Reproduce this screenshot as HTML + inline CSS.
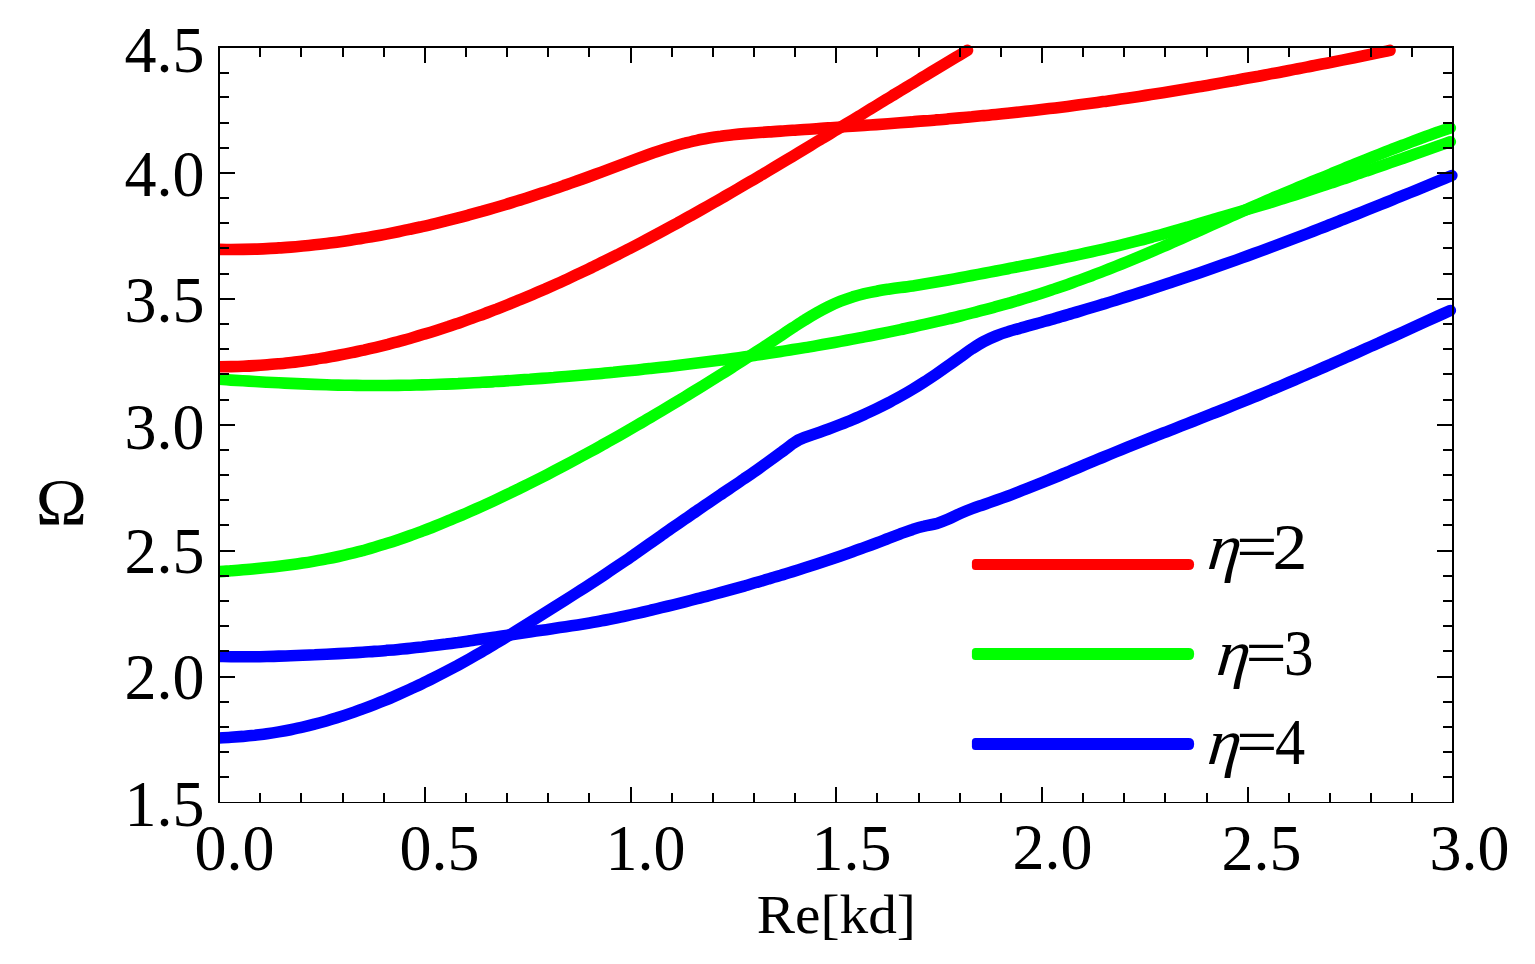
<!DOCTYPE html>
<html lang="en">
<head>
<meta charset="utf-8">
<title>Dispersion curves: Ω versus Re[kd]</title>
<style>
html,body{margin:0;padding:0;background:#fff;}
body{width:1535px;height:964px;overflow:hidden;}
svg{display:block;}
text{font-family:"Liberation Serif","DejaVu Serif",serif;fill:#000;}
.ax line,.ax rect{shape-rendering:crispEdges;}
.cv path{fill:none;stroke-linecap:round;stroke-linejoin:round;}
</style>
</head>
<body>
<svg width="1535" height="964" viewBox="0 0 1535 964">
<rect x="0" y="0" width="1535" height="964" fill="#ffffff"/>
<defs><clipPath id="pc"><rect x="218" y="30" width="1250" height="790"/></clipPath></defs>
<g class="cv" stroke-width="11.6" clip-path="url(#pc)">
<path stroke="#0000ff" d="M219.0 656.5 C221.0 656.5 227.0 656.7 231.0 656.7 C234.9 656.8 238.9 656.8 242.9 656.8 C246.9 656.8 250.9 656.8 254.9 656.7 C258.8 656.7 262.8 656.6 266.8 656.5 C270.8 656.4 274.8 656.3 278.8 656.1 C282.8 656.0 286.7 655.9 290.7 655.7 C294.7 655.6 298.7 655.4 302.7 655.3 C306.7 655.1 310.7 654.9 314.6 654.8 C318.6 654.6 322.6 654.4 326.6 654.2 C330.6 654.0 334.6 653.8 338.5 653.6 C342.5 653.4 346.5 653.2 350.5 653.0 C354.5 652.7 358.5 652.5 362.5 652.2 C366.4 651.9 370.4 651.7 374.4 651.4 C378.4 651.1 382.4 650.8 386.4 650.4 C390.3 650.1 394.3 649.8 398.3 649.4 C402.3 649.0 406.3 648.7 410.3 648.2 C414.3 647.8 418.2 647.4 422.2 647.0 C426.2 646.5 430.2 646.0 434.2 645.6 C438.2 645.1 442.1 644.6 446.1 644.1 C450.1 643.5 454.1 643.0 458.1 642.5 C462.1 641.9 466.1 641.4 470.0 640.8 C474.0 640.3 478.0 639.7 482.0 639.1 C486.0 638.5 490.0 637.9 494.0 637.3 C497.9 636.8 501.9 636.2 505.9 635.6 C509.9 635.0 513.9 634.4 517.9 633.8 C521.8 633.2 525.8 632.6 529.8 632.0 C533.8 631.4 537.8 630.8 541.8 630.2 C545.8 629.7 549.7 629.1 553.7 628.5 C557.7 627.9 561.7 627.3 565.7 626.7 C569.7 626.1 573.6 625.5 577.6 624.9 C581.6 624.3 585.6 623.6 589.6 623.0 C593.6 622.3 597.6 621.6 601.5 620.8 C605.5 620.1 609.5 619.3 613.5 618.5 C617.5 617.7 621.5 616.9 625.4 616.0 C629.4 615.2 633.4 614.3 637.4 613.4 C641.4 612.5 645.4 611.5 649.4 610.6 C653.3 609.7 657.3 608.7 661.3 607.7 C665.3 606.7 669.3 605.8 673.3 604.8 C677.3 603.8 681.2 602.8 685.2 601.8 C689.2 600.8 693.2 599.7 697.2 598.7 C701.2 597.7 705.1 596.6 709.1 595.6 C713.1 594.5 717.1 593.5 721.1 592.4 C725.1 591.3 729.1 590.2 733.0 589.1 C737.0 588.0 741.0 586.9 745.0 585.8 C749.0 584.6 753.0 583.5 756.9 582.3 C760.9 581.2 764.9 580.0 768.9 578.8 C772.9 577.7 776.9 576.5 780.9 575.3 C784.8 574.0 788.8 572.8 792.8 571.6 C796.8 570.3 800.8 569.1 804.8 567.8 C808.7 566.5 812.7 565.2 816.7 563.9 C820.7 562.6 824.7 561.3 828.7 560.0 C832.7 558.6 836.6 557.3 840.6 555.9 C844.6 554.5 848.6 553.1 852.6 551.7 C856.6 550.3 860.6 548.8 864.5 547.4 C868.5 545.9 872.5 544.5 876.5 543.0 C880.5 541.5 884.5 540.0 888.4 538.4 C892.4 536.9 896.4 535.3 900.4 533.8 C904.4 532.4 908.4 530.8 912.4 529.6 C916.3 528.3 920.3 527.1 924.3 526.2 C928.3 525.2 932.3 524.8 936.3 523.7 C940.2 522.5 944.2 520.9 948.2 519.2 C952.2 517.5 956.2 515.3 960.2 513.5 C964.2 511.7 968.1 510.1 972.1 508.6 C976.1 507.1 980.1 505.9 984.1 504.5 C988.1 503.1 992.0 501.7 996.0 500.3 C1000.0 498.9 1004.0 497.4 1008.0 496.0 C1012.0 494.5 1016.0 492.9 1019.9 491.4 C1023.9 489.9 1027.9 488.3 1031.9 486.7 C1035.9 485.1 1039.9 483.5 1043.9 481.9 C1047.8 480.3 1051.8 478.6 1055.8 477.0 C1059.8 475.3 1063.8 473.6 1067.8 472.0 C1071.7 470.3 1075.7 468.6 1079.7 467.0 C1083.7 465.3 1087.7 463.6 1091.7 461.9 C1095.7 460.3 1099.6 458.6 1103.6 457.0 C1107.6 455.3 1111.6 453.7 1115.6 452.0 C1119.6 450.4 1123.5 448.8 1127.5 447.2 C1131.5 445.6 1135.5 444.0 1139.5 442.4 C1143.5 440.8 1147.5 439.2 1151.4 437.6 C1155.4 436.1 1159.4 434.5 1163.4 432.9 C1167.4 431.4 1171.4 429.8 1175.3 428.3 C1179.3 426.7 1183.3 425.2 1187.3 423.6 C1191.3 422.0 1195.3 420.5 1199.3 418.9 C1203.2 417.4 1207.2 415.8 1211.2 414.2 C1215.2 412.7 1219.2 411.1 1223.2 409.5 C1227.2 407.9 1231.1 406.3 1235.1 404.7 C1239.1 403.1 1243.1 401.5 1247.1 399.9 C1251.1 398.3 1255.0 396.6 1259.0 395.0 C1263.0 393.3 1267.0 391.7 1271.0 390.0 C1275.0 388.3 1279.0 386.7 1282.9 385.0 C1286.9 383.3 1290.9 381.6 1294.9 379.9 C1298.9 378.2 1302.9 376.4 1306.8 374.7 C1310.8 373.0 1314.8 371.3 1318.8 369.5 C1322.8 367.8 1326.8 366.0 1330.8 364.3 C1334.7 362.5 1338.7 360.7 1342.7 359.0 C1346.7 357.2 1350.7 355.4 1354.7 353.7 C1358.6 351.9 1362.6 350.1 1366.6 348.3 C1370.6 346.5 1374.6 344.7 1378.6 343.0 C1382.6 341.2 1386.5 339.4 1390.5 337.6 C1394.5 335.8 1398.5 334.0 1402.5 332.2 C1406.5 330.4 1410.5 328.6 1414.4 326.8 C1418.4 325.0 1422.4 323.1 1426.4 321.3 C1430.4 319.5 1434.4 317.7 1438.3 315.9 C1442.3 314.1 1448.3 311.4 1450.3 310.5"/>
<path stroke="#0000ff" d="M219.0 738.0 C221.0 737.9 227.0 737.6 230.9 737.3 C234.9 737.0 238.9 736.7 242.9 736.4 C246.9 736.0 250.8 735.6 254.8 735.2 C258.8 734.7 262.8 734.3 266.8 733.7 C270.7 733.2 274.7 732.6 278.7 731.9 C282.7 731.2 286.6 730.5 290.6 729.7 C294.6 728.9 298.6 728.1 302.6 727.2 C306.5 726.3 310.5 725.3 314.5 724.2 C318.5 723.2 322.5 722.1 326.4 721.0 C330.4 719.8 334.4 718.6 338.4 717.3 C342.4 716.1 346.3 714.8 350.3 713.4 C354.3 712.0 358.3 710.6 362.2 709.1 C366.2 707.7 370.2 706.2 374.2 704.6 C378.2 703.0 382.1 701.4 386.1 699.8 C390.1 698.1 394.1 696.4 398.1 694.6 C402.0 692.9 406.0 691.1 410.0 689.3 C414.0 687.4 418.0 685.6 421.9 683.7 C425.9 681.8 429.9 679.8 433.9 677.8 C437.9 675.8 441.8 673.8 445.8 671.7 C449.8 669.6 453.8 667.5 457.8 665.4 C461.7 663.2 465.7 661.0 469.7 658.8 C473.7 656.5 477.6 654.2 481.6 651.9 C485.6 649.6 489.6 647.2 493.6 644.8 C497.5 642.4 501.5 640.0 505.5 637.5 C509.5 635.1 513.5 632.6 517.4 630.1 C521.4 627.6 525.4 625.1 529.4 622.6 C533.4 620.1 537.3 617.6 541.3 615.1 C545.3 612.6 549.3 610.1 553.2 607.6 C557.2 605.1 561.2 602.6 565.2 600.1 C569.2 597.6 573.1 595.1 577.1 592.5 C581.1 590.0 585.1 587.5 589.1 584.9 C593.0 582.3 597.0 579.7 601.0 577.1 C605.0 574.4 609.0 571.8 612.9 569.1 C616.9 566.4 620.9 563.7 624.9 561.0 C628.9 558.3 632.8 555.5 636.8 552.7 C640.8 549.9 644.8 547.1 648.8 544.3 C652.7 541.5 656.7 538.7 660.7 535.9 C664.7 533.2 668.6 530.4 672.6 527.6 C676.6 524.8 680.6 522.1 684.6 519.3 C688.5 516.6 692.5 513.8 696.5 511.1 C700.5 508.4 704.5 505.6 708.4 502.9 C712.4 500.2 716.4 497.5 720.4 494.8 C724.4 492.2 728.3 489.5 732.3 486.8 C736.3 484.1 740.3 481.4 744.2 478.6 C748.2 475.9 752.2 473.2 756.2 470.4 C760.2 467.6 764.1 464.8 768.1 461.9 C772.1 459.1 776.1 456.2 780.1 453.2 C784.0 450.3 790.0 445.7 792.0 444.2 Q798.0 439.5 804.0 437.6 C806.0 436.9 812.0 434.9 816.0 433.5 C820.0 432.1 824.0 430.7 828.0 429.2 C832.0 427.8 836.0 426.3 840.0 424.7 C844.0 423.1 848.0 421.5 852.0 419.8 C856.0 418.1 860.0 416.4 864.0 414.6 C868.0 412.8 872.0 410.9 876.0 409.0 C880.0 407.0 884.0 405.0 888.0 403.0 C892.0 400.9 896.0 398.7 900.0 396.5 C904.0 394.3 908.0 392.0 912.0 389.6 C916.0 387.2 920.0 384.7 924.0 382.1 C928.0 379.6 932.0 376.9 936.0 374.2 C940.0 371.4 944.0 368.6 948.0 365.8 C952.0 363.0 956.0 360.1 960.0 357.2 C964.0 354.4 967.9 351.5 971.9 348.8 C975.9 346.2 979.9 343.6 983.9 341.5 C987.9 339.4 991.9 337.6 995.9 336.0 C999.9 334.4 1003.9 333.0 1007.9 331.8 C1011.9 330.5 1015.9 329.4 1019.9 328.3 C1023.9 327.1 1027.9 326.0 1031.9 324.9 C1035.9 323.8 1039.9 322.7 1043.9 321.5 C1047.9 320.4 1051.9 319.3 1055.9 318.1 C1059.9 317.0 1063.9 315.8 1067.9 314.6 C1071.9 313.5 1075.9 312.3 1079.9 311.1 C1083.9 309.9 1087.9 308.7 1091.9 307.5 C1095.9 306.3 1099.9 305.1 1103.9 303.9 C1107.9 302.6 1111.9 301.4 1115.9 300.2 C1119.9 298.9 1123.9 297.7 1127.9 296.4 C1131.9 295.1 1135.9 293.9 1139.9 292.6 C1143.9 291.3 1147.9 290.0 1151.9 288.7 C1155.9 287.4 1159.9 286.1 1163.9 284.8 C1167.9 283.5 1171.9 282.2 1175.9 280.8 C1179.9 279.5 1183.9 278.1 1187.9 276.8 C1191.9 275.4 1195.9 274.1 1199.9 272.7 C1203.9 271.3 1207.9 269.9 1211.9 268.5 C1215.9 267.1 1219.9 265.7 1223.9 264.3 C1227.9 262.9 1231.9 261.5 1235.9 260.1 C1239.9 258.6 1243.9 257.2 1247.9 255.7 C1251.9 254.3 1255.9 252.8 1259.9 251.4 C1263.9 249.9 1267.9 248.4 1271.9 246.9 C1275.9 245.4 1279.9 243.9 1283.9 242.4 C1287.9 240.9 1291.8 239.4 1295.8 237.9 C1299.8 236.4 1303.8 234.8 1307.8 233.3 C1311.8 231.8 1315.8 230.2 1319.8 228.7 C1323.8 227.1 1327.8 225.5 1331.8 224.0 C1335.8 222.4 1339.8 220.8 1343.8 219.3 C1347.8 217.7 1351.8 216.1 1355.8 214.5 C1359.8 212.9 1363.8 211.3 1367.8 209.7 C1371.8 208.1 1375.8 206.5 1379.8 204.9 C1383.8 203.3 1387.8 201.7 1391.8 200.1 C1395.8 198.4 1399.8 196.8 1403.8 195.2 C1407.8 193.6 1411.8 191.9 1415.8 190.3 C1419.8 188.7 1423.8 187.0 1427.8 185.4 C1431.8 183.7 1435.8 182.1 1439.8 180.4 C1443.8 178.8 1449.8 176.3 1451.8 175.5"/>
<path stroke="#00ff00" d="M219.0 379.3 C221.0 379.4 227.0 379.8 231.0 380.1 C234.9 380.3 238.9 380.6 242.9 380.8 C246.9 381.0 250.9 381.3 254.9 381.5 C258.8 381.7 262.8 382.0 266.8 382.2 C270.8 382.4 274.8 382.6 278.8 382.8 C282.8 383.0 286.7 383.2 290.7 383.4 C294.7 383.6 298.7 383.7 302.7 383.9 C306.7 384.1 310.7 384.2 314.6 384.4 C318.6 384.5 322.6 384.6 326.6 384.7 C330.6 384.9 334.6 385.0 338.5 385.1 C342.5 385.2 346.5 385.2 350.5 385.3 C354.5 385.4 358.5 385.4 362.5 385.5 C366.4 385.5 370.4 385.5 374.4 385.5 C378.4 385.5 382.4 385.5 386.4 385.5 C390.3 385.5 394.3 385.4 398.3 385.4 C402.3 385.3 406.3 385.3 410.3 385.2 C414.3 385.1 418.2 385.0 422.2 384.9 C426.2 384.8 430.2 384.6 434.2 384.5 C438.2 384.4 442.1 384.2 446.1 384.1 C450.1 383.9 454.1 383.7 458.1 383.6 C462.1 383.4 466.1 383.2 470.0 383.0 C474.0 382.8 478.0 382.6 482.0 382.3 C486.0 382.1 490.0 381.9 494.0 381.6 C497.9 381.4 501.9 381.2 505.9 380.9 C509.9 380.6 513.9 380.4 517.9 380.1 C521.8 379.8 525.8 379.5 529.8 379.3 C533.8 379.0 537.8 378.7 541.8 378.4 C545.8 378.1 549.7 377.8 553.7 377.5 C557.7 377.1 561.7 376.8 565.7 376.5 C569.7 376.2 573.6 375.8 577.6 375.5 C581.6 375.2 585.6 374.8 589.6 374.5 C593.6 374.1 597.6 373.8 601.5 373.4 C605.5 373.0 609.5 372.6 613.5 372.3 C617.5 371.9 621.5 371.5 625.4 371.1 C629.4 370.7 633.4 370.3 637.4 369.9 C641.4 369.5 645.4 369.1 649.4 368.6 C653.3 368.2 657.3 367.8 661.3 367.3 C665.3 366.9 669.3 366.4 673.3 366.0 C677.3 365.5 681.2 365.1 685.2 364.6 C689.2 364.1 693.2 363.6 697.2 363.1 C701.2 362.6 705.1 362.1 709.1 361.6 C713.1 361.1 717.1 360.6 721.1 360.1 C725.1 359.6 729.1 359.0 733.0 358.5 C737.0 357.9 741.0 357.4 745.0 356.8 C749.0 356.2 753.0 355.7 756.9 355.1 C760.9 354.5 764.9 353.9 768.9 353.3 C772.9 352.7 776.9 352.1 780.9 351.5 C784.8 350.9 788.8 350.2 792.8 349.6 C796.8 348.9 800.8 348.3 804.8 347.6 C808.7 347.0 812.7 346.3 816.7 345.6 C820.7 344.9 824.7 344.2 828.7 343.5 C832.7 342.8 836.6 342.1 840.6 341.4 C844.6 340.6 848.6 339.9 852.6 339.1 C856.6 338.4 860.6 337.6 864.5 336.9 C868.5 336.1 872.5 335.3 876.5 334.5 C880.5 333.7 884.5 332.9 888.4 332.1 C892.4 331.3 896.4 330.4 900.4 329.6 C904.4 328.8 908.4 327.9 912.4 327.0 C916.3 326.2 920.3 325.3 924.3 324.4 C928.3 323.5 932.3 322.6 936.3 321.7 C940.2 320.8 944.2 319.9 948.2 318.9 C952.2 318.0 956.2 317.0 960.2 316.0 C964.2 315.0 968.1 314.0 972.1 313.0 C976.1 312.0 980.1 311.0 984.1 309.9 C988.1 308.9 992.0 307.8 996.0 306.7 C1000.0 305.6 1004.0 304.5 1008.0 303.4 C1012.0 302.2 1016.0 301.1 1019.9 299.9 C1023.9 298.7 1027.9 297.5 1031.9 296.2 C1035.9 295.0 1039.9 293.7 1043.9 292.4 C1047.8 291.2 1051.8 289.8 1055.8 288.5 C1059.8 287.1 1063.8 285.8 1067.8 284.4 C1071.7 283.0 1075.7 281.5 1079.7 280.1 C1083.7 278.6 1087.7 277.2 1091.7 275.7 C1095.7 274.2 1099.6 272.6 1103.6 271.1 C1107.6 269.5 1111.6 268.0 1115.6 266.4 C1119.6 264.8 1123.5 263.2 1127.5 261.6 C1131.5 259.9 1135.5 258.3 1139.5 256.6 C1143.5 255.0 1147.5 253.3 1151.4 251.6 C1155.4 249.9 1159.4 248.2 1163.4 246.5 C1167.4 244.7 1171.4 243.0 1175.3 241.2 C1179.3 239.5 1183.3 237.7 1187.3 236.0 C1191.3 234.2 1195.3 232.4 1199.3 230.7 C1203.2 228.9 1207.2 227.1 1211.2 225.3 C1215.2 223.5 1219.2 221.7 1223.2 219.9 C1227.2 218.1 1231.1 216.3 1235.1 214.6 C1239.1 212.8 1243.1 211.0 1247.1 209.2 C1251.1 207.5 1255.0 205.7 1259.0 204.0 C1263.0 202.2 1267.0 200.5 1271.0 198.8 C1275.0 197.1 1279.0 195.5 1282.9 193.8 C1286.9 192.1 1290.9 190.5 1294.9 188.8 C1298.9 187.2 1302.9 185.5 1306.8 183.9 C1310.8 182.2 1314.8 180.6 1318.8 179.0 C1322.8 177.3 1326.8 175.7 1330.8 174.0 C1334.7 172.4 1338.7 170.7 1342.7 169.1 C1346.7 167.5 1350.7 165.9 1354.7 164.2 C1358.6 162.6 1362.6 161.0 1366.6 159.4 C1370.6 157.8 1374.6 156.2 1378.6 154.6 C1382.6 153.0 1386.5 151.5 1390.5 149.9 C1394.5 148.3 1398.5 146.8 1402.5 145.3 C1406.5 143.8 1410.5 142.2 1414.4 140.8 C1418.4 139.3 1422.4 137.8 1426.4 136.3 C1430.4 134.9 1434.4 133.5 1438.3 132.0 C1442.3 130.6 1448.3 128.6 1450.3 127.9"/>
<path stroke="#00ff00" d="M219.0 571.7 C221.0 571.5 227.0 571.1 231.0 570.8 C234.9 570.5 238.9 570.2 242.9 569.8 C246.9 569.5 250.9 569.2 254.9 568.8 C258.8 568.4 262.8 568.0 266.8 567.6 C270.8 567.2 274.8 566.7 278.8 566.3 C282.8 565.8 286.7 565.3 290.7 564.8 C294.7 564.2 298.7 563.7 302.7 563.1 C306.7 562.5 310.7 561.8 314.6 561.1 C318.6 560.4 322.6 559.7 326.6 558.9 C330.6 558.2 334.6 557.4 338.5 556.5 C342.5 555.6 346.5 554.7 350.5 553.7 C354.5 552.8 358.5 551.7 362.5 550.7 C366.4 549.6 370.4 548.5 374.4 547.3 C378.4 546.1 382.4 544.9 386.4 543.6 C390.3 542.4 394.3 541.1 398.3 539.7 C402.3 538.4 406.3 537.0 410.3 535.5 C414.3 534.1 418.2 532.6 422.2 531.1 C426.2 529.6 430.2 528.1 434.2 526.5 C438.2 524.9 442.1 523.3 446.1 521.7 C450.1 520.1 454.1 518.4 458.1 516.7 C462.1 515.0 466.1 513.3 470.0 511.5 C474.0 509.7 478.0 508.0 482.0 506.2 C486.0 504.4 490.0 502.5 494.0 500.7 C497.9 498.8 501.9 496.9 505.9 495.0 C509.9 493.1 513.9 491.2 517.9 489.3 C521.8 487.3 525.8 485.4 529.8 483.4 C533.8 481.4 537.8 479.4 541.8 477.4 C545.8 475.3 549.7 473.3 553.7 471.2 C557.7 469.1 561.7 467.0 565.7 464.9 C569.7 462.8 573.6 460.7 577.6 458.5 C581.6 456.4 585.6 454.2 589.6 452.0 C593.6 449.9 597.6 447.7 601.5 445.4 C605.5 443.2 609.5 441.0 613.5 438.7 C617.5 436.5 621.5 434.2 625.4 431.9 C629.4 429.6 633.4 427.3 637.4 425.0 C641.4 422.7 645.4 420.4 649.4 418.0 C653.3 415.7 657.3 413.3 661.3 411.0 C665.3 408.6 669.3 406.2 673.3 403.8 C677.3 401.4 681.2 399.0 685.2 396.6 C689.2 394.1 693.2 391.7 697.2 389.3 C701.2 386.8 705.1 384.4 709.1 381.9 C713.1 379.4 717.1 376.9 721.1 374.4 C725.1 371.9 729.1 369.4 733.0 366.8 C737.0 364.3 741.0 361.8 745.0 359.2 C749.0 356.6 753.0 354.0 756.9 351.4 C760.9 348.8 764.9 346.2 768.9 343.6 C772.9 341.0 776.9 338.3 780.9 335.7 C784.8 333.0 788.8 330.3 792.8 327.7 C796.8 325.1 800.8 322.4 804.8 320.0 C808.7 317.5 812.7 315.0 816.7 312.8 C820.7 310.6 824.7 308.5 828.7 306.5 C832.7 304.6 836.6 302.8 840.6 301.2 C844.6 299.6 848.6 298.2 852.6 296.9 C856.6 295.7 860.6 294.6 864.5 293.6 C868.5 292.7 872.5 291.9 876.5 291.2 C880.5 290.4 884.5 289.8 888.4 289.2 C892.4 288.6 896.4 288.1 900.4 287.5 C904.4 287.0 908.4 286.5 912.4 285.9 C916.3 285.3 920.3 284.7 924.3 284.0 C928.3 283.4 932.3 282.7 936.3 282.1 C940.2 281.4 944.2 280.7 948.2 280.0 C952.2 279.3 956.2 278.5 960.2 277.8 C964.2 277.0 968.1 276.3 972.1 275.5 C976.1 274.8 980.1 274.0 984.1 273.3 C988.1 272.5 992.0 271.8 996.0 271.0 C1000.0 270.2 1004.0 269.5 1008.0 268.7 C1012.0 267.9 1016.0 267.2 1019.9 266.4 C1023.9 265.6 1027.9 264.9 1031.9 264.1 C1035.9 263.3 1039.9 262.5 1043.9 261.7 C1047.8 260.9 1051.8 260.1 1055.8 259.3 C1059.8 258.5 1063.8 257.7 1067.8 256.9 C1071.7 256.0 1075.7 255.2 1079.7 254.3 C1083.7 253.5 1087.7 252.6 1091.7 251.8 C1095.7 250.9 1099.6 250.0 1103.6 249.1 C1107.6 248.2 1111.6 247.2 1115.6 246.3 C1119.6 245.4 1123.5 244.4 1127.5 243.4 C1131.5 242.4 1135.5 241.4 1139.5 240.4 C1143.5 239.4 1147.5 238.4 1151.4 237.3 C1155.4 236.2 1159.4 235.2 1163.4 234.0 C1167.4 232.9 1171.4 231.8 1175.3 230.7 C1179.3 229.5 1183.3 228.3 1187.3 227.2 C1191.3 226.0 1195.3 224.8 1199.3 223.6 C1203.2 222.4 1207.2 221.2 1211.2 220.0 C1215.2 218.9 1219.2 217.7 1223.2 216.5 C1227.2 215.3 1231.1 214.2 1235.1 213.0 C1239.1 211.8 1243.1 210.7 1247.1 209.5 C1251.1 208.3 1255.0 207.2 1259.0 206.0 C1263.0 204.8 1267.0 203.6 1271.0 202.4 C1275.0 201.1 1279.0 199.9 1282.9 198.7 C1286.9 197.4 1290.9 196.2 1294.9 194.9 C1298.9 193.6 1302.9 192.3 1306.8 191.0 C1310.8 189.7 1314.8 188.4 1318.8 187.1 C1322.8 185.8 1326.8 184.5 1330.8 183.1 C1334.7 181.8 1338.7 180.5 1342.7 179.1 C1346.7 177.8 1350.7 176.4 1354.7 175.0 C1358.6 173.7 1362.6 172.3 1366.6 170.9 C1370.6 169.6 1374.6 168.2 1378.6 166.8 C1382.6 165.4 1386.5 164.0 1390.5 162.6 C1394.5 161.2 1398.5 159.9 1402.5 158.5 C1406.5 157.1 1410.5 155.7 1414.4 154.3 C1418.4 152.9 1422.4 151.5 1426.4 150.1 C1430.4 148.7 1434.4 147.3 1438.3 145.9 C1442.3 144.5 1448.3 142.5 1450.3 141.8"/>
<path stroke="#ff0000" d="M219.0 249.4 C221.0 249.4 227.0 249.5 230.9 249.5 C234.9 249.5 238.9 249.5 242.9 249.4 C246.9 249.3 250.9 249.2 254.8 249.1 C258.8 249.0 262.8 248.8 266.8 248.6 C270.8 248.4 274.8 248.2 278.7 247.9 C282.7 247.7 286.7 247.4 290.7 247.1 C294.7 246.8 298.7 246.4 302.6 246.0 C306.6 245.7 310.6 245.3 314.6 244.8 C318.6 244.4 322.6 243.9 326.5 243.4 C330.5 243.0 334.5 242.4 338.5 241.9 C342.5 241.4 346.5 240.8 350.4 240.2 C354.4 239.6 358.4 239.0 362.4 238.3 C366.4 237.6 370.4 237.0 374.3 236.3 C378.3 235.6 382.3 234.8 386.3 234.1 C390.3 233.3 394.3 232.5 398.2 231.7 C402.2 230.9 406.2 230.1 410.2 229.2 C414.2 228.4 418.1 227.5 422.1 226.6 C426.1 225.7 430.1 224.8 434.1 223.8 C438.1 222.9 442.0 221.9 446.0 220.9 C450.0 219.9 454.0 218.9 458.0 217.9 C462.0 216.9 465.9 215.8 469.9 214.7 C473.9 213.6 477.9 212.5 481.9 211.4 C485.9 210.3 489.8 209.2 493.8 208.0 C497.8 206.8 501.8 205.7 505.8 204.5 C509.8 203.3 513.7 202.0 517.7 200.8 C521.7 199.6 525.7 198.3 529.7 197.0 C533.7 195.7 537.6 194.4 541.6 193.1 C545.6 191.8 549.6 190.5 553.6 189.1 C557.6 187.8 561.5 186.4 565.5 185.0 C569.5 183.6 573.5 182.2 577.5 180.8 C581.5 179.4 585.4 178.0 589.4 176.5 C593.4 175.0 597.4 173.6 601.4 172.1 C605.4 170.6 609.3 169.1 613.3 167.6 C617.3 166.1 621.3 164.6 625.3 163.1 C629.2 161.6 633.2 160.1 637.2 158.6 C641.2 157.2 645.2 155.7 649.2 154.3 C653.1 152.9 657.1 151.6 661.1 150.3 C665.1 149.0 669.1 147.7 673.1 146.5 C677.0 145.3 681.0 144.2 685.0 143.2 C689.0 142.1 693.0 141.2 697.0 140.3 C700.9 139.4 704.9 138.7 708.9 138.0 C712.9 137.3 716.9 136.7 720.9 136.2 C724.8 135.6 728.8 135.2 732.8 134.7 C736.8 134.3 740.8 134.0 744.8 133.6 C748.7 133.3 752.7 133.0 756.7 132.7 C760.7 132.5 764.7 132.2 768.7 131.9 C772.6 131.7 776.6 131.4 780.6 131.1 C784.6 130.9 788.6 130.6 792.6 130.3 C796.5 130.1 800.5 129.8 804.5 129.5 C808.5 129.3 812.5 129.0 816.4 128.7 C820.4 128.5 824.4 128.2 828.4 127.9 C832.4 127.6 836.4 127.4 840.3 127.1 C844.3 126.8 848.3 126.5 852.3 126.3 C856.3 126.0 860.3 125.7 864.2 125.4 C868.2 125.1 872.2 124.9 876.2 124.6 C880.2 124.3 884.2 124.0 888.1 123.7 C892.1 123.4 896.1 123.1 900.1 122.8 C904.1 122.5 908.1 122.2 912.0 121.9 C916.0 121.5 920.0 121.2 924.0 120.9 C928.0 120.6 932.0 120.3 935.9 119.9 C939.9 119.6 943.9 119.3 947.9 118.9 C951.9 118.6 955.9 118.2 959.8 117.9 C963.8 117.5 967.8 117.1 971.8 116.8 C975.8 116.4 979.8 116.0 983.7 115.6 C987.7 115.3 991.7 114.9 995.7 114.5 C999.7 114.1 1003.6 113.7 1007.6 113.2 C1011.6 112.8 1015.6 112.4 1019.6 112.0 C1023.6 111.6 1027.5 111.1 1031.5 110.7 C1035.5 110.2 1039.5 109.8 1043.5 109.3 C1047.5 108.8 1051.4 108.4 1055.4 107.9 C1059.4 107.4 1063.4 106.9 1067.4 106.4 C1071.4 105.9 1075.3 105.4 1079.3 104.8 C1083.3 104.3 1087.3 103.8 1091.3 103.3 C1095.3 102.7 1099.2 102.2 1103.2 101.6 C1107.2 101.1 1111.2 100.5 1115.2 99.9 C1119.2 99.3 1123.1 98.8 1127.1 98.2 C1131.1 97.6 1135.1 97.0 1139.1 96.4 C1143.1 95.8 1147.0 95.2 1151.0 94.5 C1155.0 93.9 1159.0 93.3 1163.0 92.7 C1167.0 92.0 1170.9 91.4 1174.9 90.7 C1178.9 90.1 1182.9 89.4 1186.9 88.8 C1190.9 88.1 1194.8 87.4 1198.8 86.7 C1202.8 86.1 1206.8 85.4 1210.8 84.7 C1214.7 84.0 1218.7 83.3 1222.7 82.6 C1226.7 81.9 1230.7 81.2 1234.7 80.5 C1238.6 79.8 1242.6 79.1 1246.6 78.3 C1250.6 77.6 1254.6 76.9 1258.6 76.2 C1262.5 75.4 1266.5 74.7 1270.5 73.9 C1274.5 73.2 1278.5 72.5 1282.5 71.7 C1286.4 70.9 1290.4 70.2 1294.4 69.4 C1298.4 68.7 1302.4 67.9 1306.4 67.1 C1310.3 66.4 1314.3 65.6 1318.3 64.8 C1322.3 64.0 1326.3 63.2 1330.3 62.5 C1334.2 61.7 1338.2 60.9 1342.2 60.1 C1346.2 59.3 1350.2 58.5 1354.2 57.7 C1358.1 56.9 1362.1 56.1 1366.1 55.3 C1370.1 54.5 1374.1 53.7 1378.1 52.9 C1382.0 52.1 1388.0 50.9 1390.0 50.4"/>
<path stroke="#ff0000" d="M219.0 366.7 C221.0 366.7 227.0 366.7 231.1 366.6 C235.1 366.5 239.1 366.4 243.1 366.2 C247.2 366.1 251.2 365.9 255.2 365.6 C259.2 365.4 263.3 365.1 267.3 364.8 C271.3 364.5 275.3 364.1 279.4 363.7 C283.4 363.3 287.4 362.9 291.4 362.4 C295.5 362.0 299.5 361.4 303.5 360.9 C307.5 360.4 311.6 359.8 315.6 359.2 C319.6 358.5 323.6 357.9 327.7 357.2 C331.7 356.5 335.7 355.8 339.7 355.0 C343.8 354.3 347.8 353.5 351.8 352.6 C355.8 351.8 359.8 350.9 363.9 350.1 C367.9 349.2 371.9 348.2 375.9 347.3 C380.0 346.3 384.0 345.3 388.0 344.3 C392.0 343.2 396.1 342.2 400.1 341.1 C404.1 340.0 408.1 338.9 412.2 337.7 C416.2 336.6 420.2 335.4 424.2 334.1 C428.3 332.9 432.3 331.7 436.3 330.4 C440.3 329.1 444.4 327.8 448.4 326.5 C452.4 325.1 456.4 323.8 460.5 322.4 C464.5 321.0 468.5 319.6 472.5 318.1 C476.5 316.6 480.6 315.2 484.6 313.7 C488.6 312.2 492.6 310.6 496.7 309.1 C500.7 307.5 504.7 305.9 508.7 304.3 C512.8 302.7 516.8 301.0 520.8 299.4 C524.8 297.7 528.9 296.0 532.9 294.3 C536.9 292.6 540.9 290.8 545.0 289.1 C549.0 287.3 553.0 285.5 557.0 283.7 C561.1 281.9 565.1 280.0 569.1 278.2 C573.1 276.3 577.2 274.4 581.2 272.5 C585.2 270.6 589.2 268.7 593.2 266.7 C597.3 264.8 601.3 262.8 605.3 260.8 C609.3 258.8 613.4 256.8 617.4 254.8 C621.4 252.7 625.4 250.7 629.5 248.6 C633.5 246.5 637.5 244.4 641.5 242.3 C645.6 240.2 649.6 238.1 653.6 235.9 C657.6 233.8 661.7 231.6 665.7 229.4 C669.7 227.3 673.7 225.1 677.8 222.9 C681.8 220.6 685.8 218.4 689.8 216.2 C693.9 213.9 697.9 211.7 701.9 209.4 C705.9 207.1 710.0 204.8 714.0 202.5 C718.0 200.3 722.0 197.9 726.0 195.6 C730.1 193.3 734.1 191.0 738.1 188.6 C742.1 186.3 746.2 183.9 750.2 181.6 C754.2 179.2 758.2 176.8 762.3 174.5 C766.3 172.1 770.3 169.7 774.3 167.3 C778.4 164.9 782.4 162.5 786.4 160.1 C790.4 157.7 794.5 155.2 798.5 152.8 C802.5 150.4 806.5 148.0 810.6 145.5 C814.6 143.1 818.6 140.7 822.6 138.2 C826.7 135.8 830.7 133.3 834.7 130.9 C838.7 128.4 842.8 126.0 846.8 123.5 C850.8 121.1 854.8 118.6 858.8 116.2 C862.9 113.7 866.9 111.2 870.9 108.8 C874.9 106.3 879.0 103.9 883.0 101.4 C887.0 98.9 891.0 96.5 895.1 94.0 C899.1 91.6 903.1 89.1 907.1 86.7 C911.2 84.2 915.2 81.8 919.2 79.3 C923.2 76.9 927.3 74.5 931.3 72.0 C935.3 69.6 939.3 67.2 943.4 64.7 C947.4 62.3 951.4 59.9 955.4 57.5 C959.5 55.1 965.5 51.5 967.5 50.3"/>
</g>
<g class="lg">
<path fill="#ff0000" d="M975.4 559.0 H1188.6 Q1194.1 559.0 1194.1 564.5 V564.6 Q1194.1 570.1 1188.6 570.1 H975.4 Q971.9 570.1 971.9 566.6 V562.5 Q971.9 559.0 975.4 559.0 Z"/>
<path fill="#00ff00" d="M975.4 648.0 H1188.6 Q1194.1 648.0 1194.1 653.5 V654.6 Q1194.1 660.1 1188.6 660.1 H975.4 Q971.9 660.1 971.9 656.6 V651.5 Q971.9 648.0 975.4 648.0 Z"/>
<path fill="#0000ff" d="M975.4 738.0 H1188.6 Q1194.1 738.0 1194.1 743.5 V744.6 Q1194.1 750.1 1188.6 750.1 H975.4 Q971.9 750.1 971.9 746.6 V741.5 Q971.9 738.0 975.4 738.0 Z"/>
</g>
<g class="ax" fill="#000">
<rect x="218" y="46" width="2" height="757"/>
<rect x="1452" y="46" width="2" height="757"/>
<rect x="218" y="46" width="1236" height="2"/>
<rect x="218" y="802" width="1236" height="1"/>
<rect x="259" y="46" width="2" height="11"/><rect x="259" y="793" width="2" height="10"/>
<rect x="300" y="46" width="2" height="11"/><rect x="300" y="793" width="2" height="10"/>
<rect x="342" y="46" width="2" height="11"/><rect x="342" y="793" width="2" height="10"/>
<rect x="383" y="46" width="2" height="11"/><rect x="383" y="793" width="2" height="10"/>
<rect x="424" y="46" width="2" height="17"/><rect x="424" y="787" width="2" height="16"/>
<rect x="465" y="46" width="2" height="11"/><rect x="465" y="793" width="2" height="10"/>
<rect x="506" y="46" width="2" height="11"/><rect x="506" y="793" width="2" height="10"/>
<rect x="547" y="46" width="2" height="11"/><rect x="547" y="793" width="2" height="10"/>
<rect x="588" y="46" width="2" height="11"/><rect x="588" y="793" width="2" height="10"/>
<rect x="630" y="46" width="2" height="17"/><rect x="630" y="787" width="2" height="16"/>
<rect x="671" y="46" width="2" height="11"/><rect x="671" y="793" width="2" height="10"/>
<rect x="712" y="46" width="2" height="11"/><rect x="712" y="793" width="2" height="10"/>
<rect x="753" y="46" width="2" height="11"/><rect x="753" y="793" width="2" height="10"/>
<rect x="794" y="46" width="2" height="11"/><rect x="794" y="793" width="2" height="10"/>
<rect x="835" y="46" width="2" height="17"/><rect x="835" y="787" width="2" height="16"/>
<rect x="876" y="46" width="2" height="11"/><rect x="876" y="793" width="2" height="10"/>
<rect x="918" y="46" width="2" height="11"/><rect x="918" y="793" width="2" height="10"/>
<rect x="959" y="46" width="2" height="11"/><rect x="959" y="793" width="2" height="10"/>
<rect x="1000" y="46" width="2" height="11"/><rect x="1000" y="793" width="2" height="10"/>
<rect x="1041" y="46" width="2" height="17"/><rect x="1041" y="787" width="2" height="16"/>
<rect x="1082" y="46" width="2" height="11"/><rect x="1082" y="793" width="2" height="10"/>
<rect x="1123" y="46" width="2" height="11"/><rect x="1123" y="793" width="2" height="10"/>
<rect x="1164" y="46" width="2" height="11"/><rect x="1164" y="793" width="2" height="10"/>
<rect x="1206" y="46" width="2" height="11"/><rect x="1206" y="793" width="2" height="10"/>
<rect x="1247" y="46" width="2" height="17"/><rect x="1247" y="787" width="2" height="16"/>
<rect x="1288" y="46" width="2" height="11"/><rect x="1288" y="793" width="2" height="10"/>
<rect x="1329" y="46" width="2" height="11"/><rect x="1329" y="793" width="2" height="10"/>
<rect x="1370" y="46" width="2" height="11"/><rect x="1370" y="793" width="2" height="10"/>
<rect x="1411" y="46" width="2" height="11"/><rect x="1411" y="793" width="2" height="10"/>
<rect x="218" y="72" width="11" height="2"/><rect x="1443" y="72" width="11" height="2"/>
<rect x="218" y="96" width="11" height="2"/><rect x="1443" y="96" width="11" height="2"/>
<rect x="218" y="122" width="11" height="2"/><rect x="1443" y="122" width="11" height="2"/>
<rect x="218" y="147" width="11" height="2"/><rect x="1443" y="147" width="11" height="2"/>
<rect x="218" y="172" width="17" height="2"/><rect x="1437" y="172" width="17" height="2"/>
<rect x="218" y="197" width="11" height="2"/><rect x="1443" y="197" width="11" height="2"/>
<rect x="218" y="222" width="11" height="2"/><rect x="1443" y="222" width="11" height="2"/>
<rect x="218" y="247" width="11" height="2"/><rect x="1443" y="247" width="11" height="2"/>
<rect x="218" y="273" width="11" height="2"/><rect x="1443" y="273" width="11" height="2"/>
<rect x="218" y="298" width="17" height="2"/><rect x="1437" y="298" width="17" height="2"/>
<rect x="218" y="323" width="11" height="2"/><rect x="1443" y="323" width="11" height="2"/>
<rect x="218" y="348" width="11" height="2"/><rect x="1443" y="348" width="11" height="2"/>
<rect x="218" y="373" width="11" height="2"/><rect x="1443" y="373" width="11" height="2"/>
<rect x="218" y="399" width="11" height="2"/><rect x="1443" y="399" width="11" height="2"/>
<rect x="218" y="424" width="17" height="2"/><rect x="1437" y="424" width="17" height="2"/>
<rect x="218" y="449" width="11" height="2"/><rect x="1443" y="449" width="11" height="2"/>
<rect x="218" y="474" width="11" height="2"/><rect x="1443" y="474" width="11" height="2"/>
<rect x="218" y="499" width="11" height="2"/><rect x="1443" y="499" width="11" height="2"/>
<rect x="218" y="524" width="11" height="2"/><rect x="1443" y="524" width="11" height="2"/>
<rect x="218" y="550" width="17" height="2"/><rect x="1437" y="550" width="17" height="2"/>
<rect x="218" y="575" width="11" height="2"/><rect x="1443" y="575" width="11" height="2"/>
<rect x="218" y="600" width="11" height="2"/><rect x="1443" y="600" width="11" height="2"/>
<rect x="218" y="625" width="11" height="2"/><rect x="1443" y="625" width="11" height="2"/>
<rect x="218" y="650" width="11" height="2"/><rect x="1443" y="650" width="11" height="2"/>
<rect x="218" y="676" width="17" height="2"/><rect x="1437" y="676" width="17" height="2"/>
<rect x="218" y="701" width="11" height="2"/><rect x="1443" y="701" width="11" height="2"/>
<rect x="218" y="726" width="11" height="2"/><rect x="1443" y="726" width="11" height="2"/>
<rect x="218" y="751" width="11" height="2"/><rect x="1443" y="751" width="11" height="2"/>
<rect x="218" y="776" width="11" height="2"/><rect x="1443" y="776" width="11" height="2"/>
</g>
<g class="tk">
<text transform="translate(164.5 71.8) scale(1 1.02)" font-size="64" text-anchor="middle">4.5</text>
<text transform="translate(164.5 195.9) scale(1 1.02)" font-size="64" text-anchor="middle">4.0</text>
<text transform="translate(164.5 322.0) scale(1 1.02)" font-size="64" text-anchor="middle">3.5</text>
<text transform="translate(164.5 449.0) scale(1 1.02)" font-size="64" text-anchor="middle">3.0</text>
<text transform="translate(164.5 573.0) scale(1 1.02)" font-size="64" text-anchor="middle">2.5</text>
<text transform="translate(164.5 699.0) scale(1 1.02)" font-size="64" text-anchor="middle">2.0</text>
<text transform="translate(164.5 826.3) scale(1 1.02)" font-size="64" text-anchor="middle">1.5</text>
<text transform="translate(234.4 870.1) scale(1 1.02)" font-size="64" text-anchor="middle">0.0</text>
<text transform="translate(439.4 870.1) scale(1 1.02)" font-size="64" text-anchor="middle">0.5</text>
<text transform="translate(645.5 870.1) scale(1 1.02)" font-size="64" text-anchor="middle">1.0</text>
<text transform="translate(851.4 870.1) scale(1 1.02)" font-size="64" text-anchor="middle">1.5</text>
<text transform="translate(1052.4 868.9) scale(1 1.02)" font-size="64" text-anchor="middle">2.0</text>
<text transform="translate(1261.5 870.0) scale(1 1.02)" font-size="64" text-anchor="middle">2.5</text>
<text transform="translate(1469.5 870.1) scale(1 1.02)" font-size="64" text-anchor="middle">3.0</text>
</g>
<text transform="translate(756.8 933.0) scale(1.042 1)" font-size="55" text-anchor="start">Re[kd]</text>
<text transform="translate(35.7 523.8) scale(1.078 1.015)" font-size="64" text-anchor="start">Ω</text>
<text transform="translate(1206.4 568.9) skewX(-6) scale(1.04 1.02)" font-size="64" font-style="italic">η</text><text transform="translate(0.0 568.9) scale(1 1.02)" font-size="64"><tspan x="1236.3" textLength="41.2" lengthAdjust="spacingAndGlyphs">=</tspan><tspan x="1272.50" textLength="34.9" lengthAdjust="spacingAndGlyphs">2</tspan></text>
<text transform="translate(1215.5 674.7) skewX(-6) scale(1.04 1.02)" font-size="64" font-style="italic">η</text><text transform="translate(9.1 674.7) scale(1 1.02)" font-size="64"><tspan x="1236.3" textLength="41.2" lengthAdjust="spacingAndGlyphs">=</tspan><tspan x="1275.00" textLength="29.5" lengthAdjust="spacingAndGlyphs">3</tspan></text>
<text transform="translate(1206.4 763.9) skewX(-6) scale(1.04 1.02)" font-size="64" font-style="italic">η</text><text transform="translate(0.0 763.9) scale(1 1.02)" font-size="64"><tspan x="1236.3" textLength="41.2" lengthAdjust="spacingAndGlyphs">=</tspan><tspan x="1274.90" textLength="30.2" lengthAdjust="spacingAndGlyphs">4</tspan></text>
</svg>
</body>
</html>
